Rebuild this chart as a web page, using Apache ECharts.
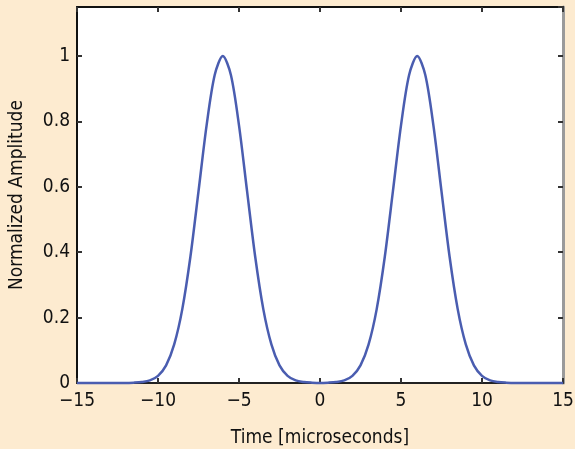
<!DOCTYPE html>
<html><head><meta charset="utf-8">
<script src="https://cdn.jsdelivr.net/npm/echarts@6/dist/echarts.min.js"></script>
<style>html,body{margin:0;padding:0;background:#fdebd0;}#c{width:575px;height:449px;}</style>
</head><body><div id="c"></div>
<script>
const times = [-15,-14.5,-14,-13.5,-13,-12.5,-12,-11.5,-11,-10.5,-10,-9.5,-9,-8.5,-8,-7.5,-7,-6.5,-6,-5.5,-5,-4.5,-4,-3.5,-3,-2.5,-2,-1.5,-1,-0.5,0,0.5,1,1.5,2,2.5,3,3.5,4,4.5,5,5.5,6,6.5,7,7.5,8,8.5,9,9.5,10,10.5,11,11.5,12,12.5,13,13.5,14,14.5,15];
const amplitude = [0,0,0,0,0,0,0,0.001,0.003,0.008,0.022,0.054,0.118,0.226,0.386,0.586,0.788,0.942,1,0.942,0.788,0.586,0.386,0.226,0.118,0.054,0.022,0.008,0.003,0.001,0,0.001,0.003,0.008,0.022,0.054,0.118,0.226,0.386,0.586,0.788,0.942,1,0.942,0.788,0.586,0.386,0.226,0.118,0.054,0.022,0.008,0.003,0.001,0,0,0,0,0,0,0];
const xTicks = [-15,-10,-5,0,5,10,15];
const yTicks = [0,0.2,0.4,0.6,0.8,1];
const xTitle = 'Time [microseconds]';
const yTitle = 'Normalized Amplitude';

const font = "'DejaVu Sans Condensed','Liberation Sans Narrow','DejaVu Sans',sans-serif";
const chart = echarts.init(document.getElementById('c'));
const tickStyle = {show:true, inside:true, length:5, lineStyle:{color:'#333', width:2}};
chart.setOption({
  backgroundColor:'#fdebd0',
  animation:false,
  grid:{left:77, right:12, top:7, bottom:66, containLabel:false, outerBoundsMode:'none',
    show:true, backgroundColor:'#ffffff', borderWidth:0},
  xAxis:[{
    type:'value', min:-15, max:15, interval:5, position:'bottom',
    name:xTitle, nameLocation:'middle', nameGap:46,
    nameTextStyle:{fontFamily:font, fontSize:19, color:'#111'},
    axisLine:{show:true, onZero:false, lineStyle:{color:'#222', width:2}},
    axisTick:tickStyle,
    axisLabel:{fontFamily:font, fontSize:19, color:'#111', margin:9,
      formatter:v=>xTicks.includes(v)?String(v).replace('-','\u2212'):''},
    splitLine:{show:false}
  },{
    type:'value', min:-15, max:15, interval:5, position:'top',
    axisLine:{show:true, onZero:false, lineStyle:{color:'#111', width:2}},
    axisTick:tickStyle, axisLabel:{show:false}, splitLine:{show:false}
  }],
  yAxis:[{
    type:'value', min:0, max:1.15, interval:0.2, position:'left',
    name:yTitle, nameLocation:'middle', nameGap:50,
    nameTextStyle:{fontFamily:font, fontSize:19, color:'#111'},
    axisLine:{show:true, onZero:false, lineStyle:{color:'#111', width:2}},
    axisTick:tickStyle,
    axisLabel:{fontFamily:font, fontSize:19, color:'#111', margin:7, showMaxLabel:false,
      formatter:v=>yTicks.some(t=>Math.abs(t-v)<1e-9)?String(+v.toFixed(1)):''},
    splitLine:{show:false}
  },{
    type:'value', min:0, max:1.15, interval:0.2, position:'right',
    axisLine:{show:true, onZero:false, lineStyle:{color:'#9a9a9a', width:3}},
    axisTick:tickStyle, axisLabel:{show:false}, splitLine:{show:false}
  }],
  series:[{
    type:'line', xAxisIndex:0, yAxisIndex:0,
    data:times.map((t,i)=>[t, amplitude[i]]),
    smooth:0.3, showSymbol:false, symbol:'none', clip:false,
    lineStyle:{color:'#4a5db0', width:2.5}
  }]
});
</script></body></html>
